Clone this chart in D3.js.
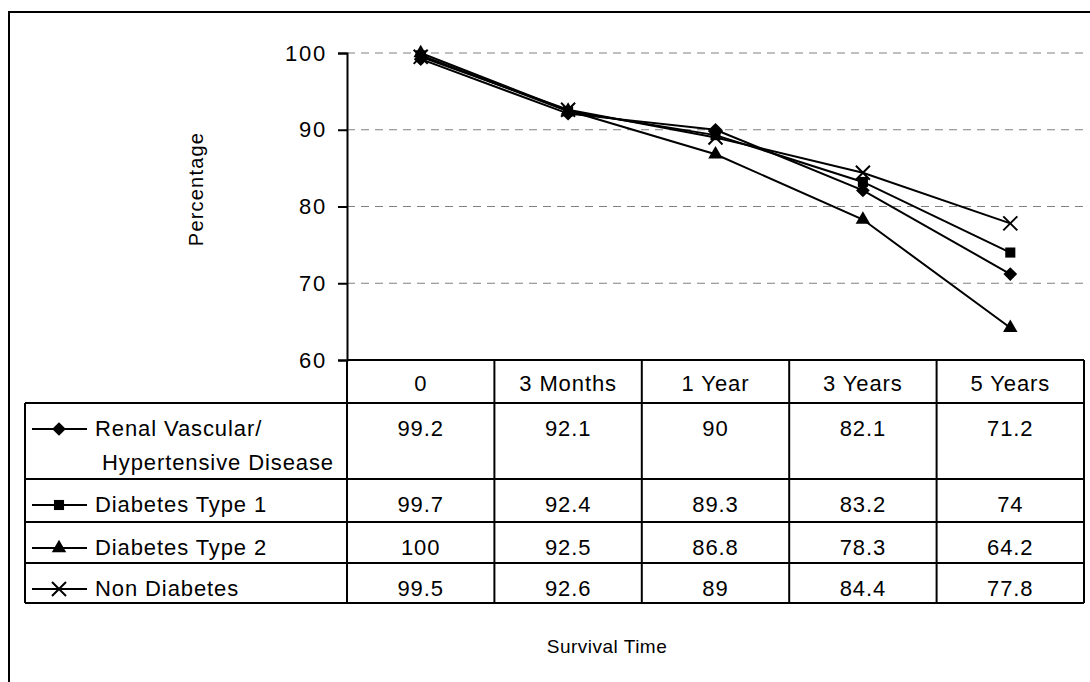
<!DOCTYPE html>
<html>
<head>
<meta charset="utf-8">
<script src="https://cdn.jsdelivr.net/npm/d3@7"></script>
<style>
    body { margin: 0; background: #fff; }
    svg { display: block; font-family: "Liberation Sans", Arial, sans-serif; }
    .tbl text { font-size: 22px; letter-spacing: 0.9px; fill: #000; }
</style>
</head>
<body>
<svg width="1090" height="682"></svg>
<script>
const categories = ["0", "3 Months", "1 Year", "3 Years", "5 Years"];
const seriesNames = [["Renal Vascular/", "Hypertensive Disease"], ["Diabetes Type 1"], ["Diabetes Type 2"], ["Non Diabetes"]];
const renalValues = [99.2, 92.1, 90, 82.1, 71.2];
const type1Values = [99.7, 92.4, 89.3, 83.2, 74];
const type2Values = [100, 92.5, 86.8, 78.3, 64.2];
const nonDiabetesValues = [99.5, 92.6, 89, 84.4, 77.8];
const yTicks = [60, 70, 80, 90, 100];

const series = [
    { names: seriesNames[0], values: renalValues, symbol: d3.symbolDiamond2, size: 120 },
    { names: seriesNames[1], values: type1Values, symbol: d3.symbolSquare2, size: 130 },
    { names: seriesNames[2], values: type2Values, symbol: d3.symbolTriangle2, size: 150 },
    { names: seriesNames[3], values: nonDiabetesValues, symbol: d3.symbolTimes, size: 130 }
];

var svg = d3.select("svg");

// outer frame (runs off the right / bottom edges like the screenshot)
svg.append("rect")
    .attr("x", 9).attr("y", 12)
    .attr("width", 1200).attr("height", 800)
    .attr("fill", "none").attr("stroke", "#000").attr("stroke-width", 2);

const plot = { left: 347, right: 1084, top: 53, bottom: 360 };
const tableLeft = 25;
const headerH = 43;
const rowHeights = [76, 43, 41, 40];

var x = d3.scaleBand().domain(categories).range([plot.left, plot.right]);
var y = d3.scaleLinear().domain([60, 100]).range([plot.bottom, plot.top]);

// gridlines
svg.append("g")
    .selectAll("line")
    .data(yTicks.filter(d => d > 60))
    .join("line")
    .attr("x1", plot.left).attr("x2", plot.right)
    .attr("y1", d => y(d)).attr("y2", d => y(d))
    .attr("stroke", "#808080").attr("stroke-width", 1)
    .attr("stroke-dasharray", "8,6");

// y axis
var yAxis = svg.append("g")
    .attr("transform", `translate(${plot.left},0)`)
    .call(d3.axisLeft(y).tickValues(yTicks).tickSize(9).tickPadding(11))
yAxis.select(".domain").attr("stroke", "#000").attr("stroke-width", 2);
yAxis.selectAll(".tick line").attr("stroke", "#000").attr("stroke-width", 2);
yAxis.selectAll(".tick text")
    .attr("font-family", null)
    .style("font-size", "22px").style("letter-spacing", "1.8px").attr("fill", "#000");

svg.append("text")
    .attr("transform", "translate(203,189) rotate(-90)")
    .attr("text-anchor", "middle")
    .style("font-size", "20px").style("letter-spacing", "1.2px")
    .attr("fill", "#000")
    .text("Percentage");

// lines + markers
var line = d3.line()
    .x((d, i) => x(categories[i]) + x.bandwidth() / 2)
    .y(d => y(d));

var lines = svg.append("g");
series.forEach(s => {
    lines.append("path")
        .attr("d", line(s.values))
        .attr("fill", "none").attr("stroke", "#000").attr("stroke-width", 2);
});
series.forEach(s => {
    lines.selectAll(null)
        .data(s.values)
        .join("path")
        .attr("transform", (d, i) => `translate(${x(categories[i]) + x.bandwidth() / 2},${y(d)})`)
        .attr("d", d3.symbol(s.symbol, s.size))
        .attr("fill", s.symbol === d3.symbolTimes ? "none" : "#000")
        .attr("stroke", "#000")
        .attr("stroke-width", s.symbol === d3.symbolTimes ? 2 : 0);
});

// data table
var tbl = svg.append("g").attr("class", "tbl");
var rowTops = [plot.bottom + headerH];
rowHeights.forEach((h, i) => rowTops.push(rowTops[i] + h));
const tableBottom = rowTops[rowTops.length - 1];

var hl = [[plot.left, plot.right, plot.bottom]];
rowTops.forEach(t => hl.push([tableLeft, plot.right, t]));
tbl.selectAll(".hl")
    .data(hl)
    .join("line")
    .attr("x1", d => d[0]).attr("x2", d => d[1])
    .attr("y1", d => d[2]).attr("y2", d => d[2])
    .attr("stroke", "#000").attr("stroke-width", 2);

var vl = categories.map(c => [x(c), plot.bottom, tableBottom]);
vl.push([plot.right, plot.bottom, tableBottom]);
vl.push([tableLeft, rowTops[0], tableBottom]);
tbl.selectAll(".vl")
    .data(vl)
    .join("line")
    .attr("x1", d => d[0]).attr("x2", d => d[0])
    .attr("y1", d => d[1]).attr("y2", d => d[2])
    .attr("stroke", "#000").attr("stroke-width", 2);

// header
tbl.selectAll(".hdr")
    .data(categories)
    .join("text")
    .attr("x", d => x(d) + x.bandwidth() / 2)
    .attr("y", plot.bottom + 31)
    .attr("text-anchor", "middle")
    .text(d => d);

series.forEach((s, r) => {
    const top = rowTops[r];
    const base = top + 33;
    // legend key
    tbl.append("line")
        .attr("x1", 32).attr("x2", 87)
        .attr("y1", base - 7).attr("y2", base - 7)
        .attr("stroke", "#000").attr("stroke-width", 2);
    tbl.append("path")
        .attr("transform", `translate(59,${base - 7})`)
        .attr("d", d3.symbol(s.symbol, s.size))
        .attr("fill", s.symbol === d3.symbolTimes ? "none" : "#000")
        .attr("stroke", "#000")
        .attr("stroke-width", s.symbol === d3.symbolTimes ? 2 : 0);
    s.names.forEach((n, k) => {
        tbl.append("text")
            .attr("x", k === 0 ? 95 : 102)
            .attr("y", base + k * 34)
            .text(n);
    });
    tbl.selectAll(null)
        .data(s.values)
        .join("text")
        .attr("x", (d, i) => x(categories[i]) + x.bandwidth() / 2)
        .attr("y", base)
        .attr("text-anchor", "middle")
        .text(d => d);
});

svg.append("text")
    .attr("x", 607).attr("y", 653)
    .attr("text-anchor", "middle")
    .style("font-size", "19px").style("letter-spacing", "0.5px")
    .attr("fill", "#000")
    .text("Survival Time");
</script>
</body>
</html>
